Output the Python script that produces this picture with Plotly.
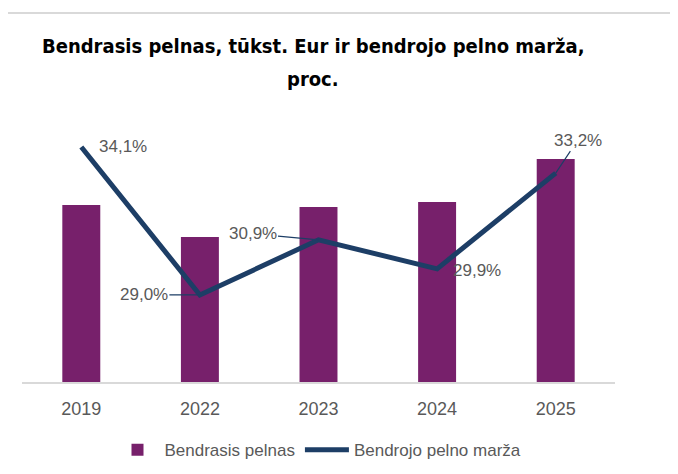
import plotly.graph_objects as go

years = ["2019", "2022", "2023", "2024", "2025"]
pelnas = [177, 145, 175, 180, 223]          # Bendrasis pelnas, tūkst. Eur (estimated)
marza = [34.1, 29.0, 30.9, 29.9, 33.2]      # Bendrojo pelno marža, proc.
marza_labels = ["34,1%", "29,0%", "30,9%", "29,9%", "33,2%"]

BAR = "#77206B"
LINE = "#1D3E66"
GRAY = "#595959"
LBL = dict(family="Liberation Sans, Arial", size=17, color=GRAY)

fig = go.Figure()
fig.add_trace(go.Bar(x=years, y=pelnas, name="Bendrasis pelnas",
                     marker=dict(color=BAR, line=dict(width=0)), yaxis="y"))
fig.add_trace(go.Scatter(x=years, y=marza, name="Bendrojo pelno marža",
                         mode="lines", line=dict(color=LINE, width=5),
                         yaxis="y2"))

# label offsets (pixels): (ax, ay, leader)
offs = [(42, 0, False), (-56, 0, True), (-66, -6, True), (40, 2, False), (22, -33, True)]
for i, (v, t, (ax, ay, lead)) in enumerate(zip(marza, marza_labels, offs)):
    if lead:
        fig.add_annotation(x=i, y=v, xref="x", yref="y2", text=t, showarrow=True,
                           ax=ax, ay=ay, arrowhead=0, arrowwidth=1.2, arrowcolor=LINE,
                           standoff=0, font=LBL)
    else:
        fig.add_annotation(x=i, y=v, xref="x", yref="y2", text=t, showarrow=False,
                           xshift=ax, yshift=-ay, font=LBL)

TITLE_FONT = dict(family="DejaVu Sans Condensed, sans-serif", size=20, color="black")
fig.add_annotation(text="<b>Bendrasis pelnas, tūkst. Eur ir bendrojo pelno marža,</b>",
                   xref="paper", yref="paper", x=(313 - 22) / 593, y=(382 - 46) / 262,
                   xanchor="center", yanchor="middle", showarrow=False, font=TITLE_FONT)
fig.add_annotation(text="<b>proc.</b>",
                   xref="paper", yref="paper", x=(313 - 22) / 593, y=(382 - 79) / 262,
                   xanchor="center", yanchor="middle", showarrow=False, font=TITLE_FONT)

fig.add_shape(type="line", xref="paper", yref="paper", x0=-0.027, x1=1.2,
              y0=(382 - 13) / 262, y1=(382 - 13) / 262,
              line=dict(color="#D9D9D9", width=2))

fig.update_layout(
    width=678, height=474,
    margin=dict(l=14, r=71, t=112, b=100, autoexpand=False),
    paper_bgcolor="white", plot_bgcolor="white",
    bargap=0.68,
    showlegend=True,
    legend=dict(orientation="h", x=0.5, xanchor="center", y=-0.26, yanchor="middle",
                font=LBL, itemwidth=44),
    xaxis=dict(type="category", range=[-0.5, len(years) - 0.5], showline=True,
               linecolor="#D9D9D9", linewidth=1.5,
               showgrid=False, ticks="outside", ticklen=10,
               tickcolor="rgba(0,0,0,0)",
               tickfont=dict(family="Liberation Sans, Arial", size=18, color=GRAY)),
    yaxis=dict(range=[0, 262], visible=False, showgrid=False),
    yaxis2=dict(range=[26.0, 35.03], overlaying="y", side="right", visible=False,
                showgrid=False),
)

fig.write_html("out.html")
